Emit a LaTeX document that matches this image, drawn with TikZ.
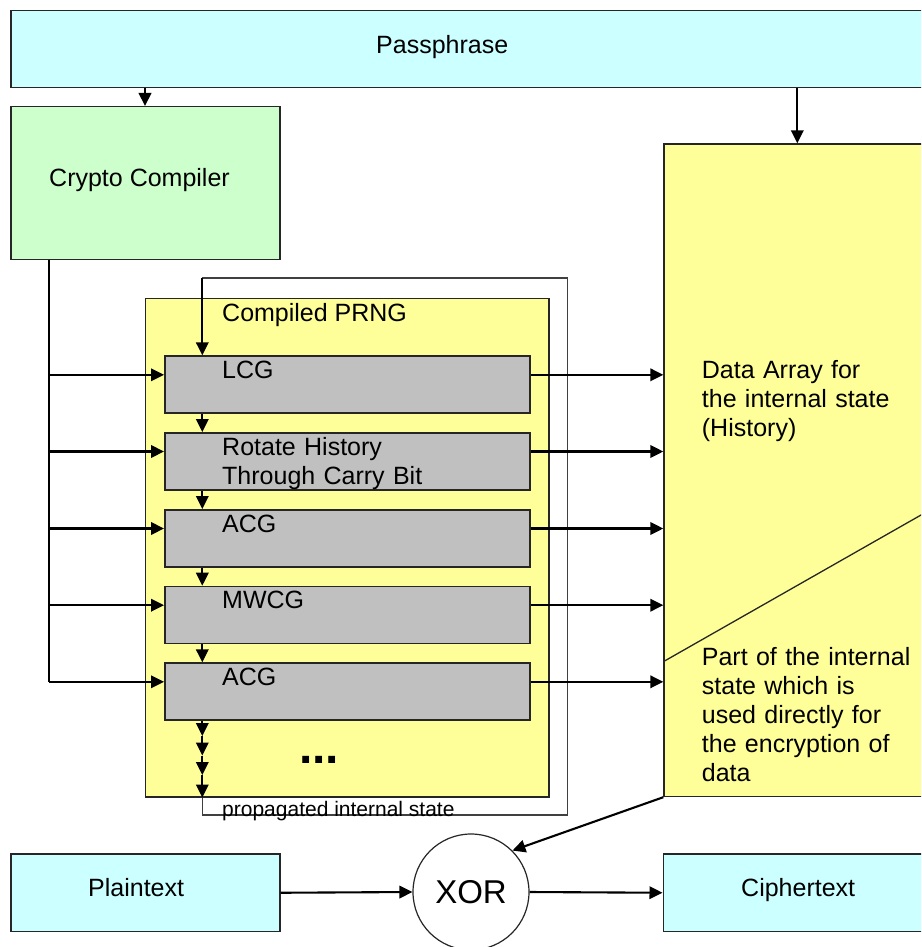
\documentclass[tikz,border=0pt]{standalone}
\usepackage{fontspec}
\setmainfont{Liberation Sans}
\usetikzlibrary{arrows.meta,calc}
\definecolor{cyanbox}{HTML}{CCFFFF}
\definecolor{greenbox}{HTML}{CCFFCC}
\definecolor{yellowbox}{HTML}{FFFF99}
\definecolor{graybox}{HTML}{C0C0C0}
\begin{document}
\begin{tikzpicture}[x=1pt,y=-1pt,
  box/.style={draw=black!85, line width=1.5pt, inner sep=0pt, anchor=north west},
  lbl/.style={anchor=base west, inner sep=0pt, font=\fontsize{25}{29}\selectfont, align=left},
  conn/.style={line width=2.1pt},
  arr/.style={line width=2.1pt, -{Triangle[length=13pt,width=12.5pt]}},
  loopline/.style={line width=1.2pt, draw=black!75},
]
\useasboundingbox (0,0) rectangle (921,947);
\clip (0,0) rectangle (921,947);
% boxes
\node[box, fill=cyanbox, minimum width=940pt, minimum height=76.7pt] (pass) at (10,10) {};
\node[box, fill=greenbox, minimum width=269pt, minimum height=152.7pt] (cc) at (10,106) {};
\node[box, fill=yellowbox, minimum width=403.3pt, minimum height=498.3pt] (prng) at (144.7,297.7) {};
\node[box, fill=yellowbox, minimum width=290pt, minimum height=652.4pt] (da) at (663.3,143.3) {};
\node[box, fill=graybox, minimum width=365pt, minimum height=57pt] (g1) at (164,355.3) {};
\node[box, fill=graybox, minimum width=365pt, minimum height=57pt] (g2) at (164,432) {};
\node[box, fill=graybox, minimum width=365pt, minimum height=57pt] (g3) at (164,509) {};
\node[box, fill=graybox, minimum width=365pt, minimum height=57pt] (g4) at (164,585.7) {};
\node[box, fill=graybox, minimum width=365pt, minimum height=57pt] (g5) at (164,662.3) {};
\node[box, fill=cyanbox, minimum width=269pt, minimum height=77.4pt] (pt) at (10,853.3) {};
\node[box, fill=cyanbox, minimum width=290pt, minimum height=77.4pt] (ct) at (662.5,853.3) {};
\node[draw=black!85, line width=1.2pt, circle, minimum size=116pt, inner sep=0pt, fill=white,
      font=\fontsize{33}{36}\selectfont] (xor) at (471,892) {XOR};

% diagonal split inside data array
\coordinate (diagA) at (663.3,661.7);
\coordinate (diagB) at (950,498.5);
\draw[line width=1.3pt, black!85] (diagA) -- (diagB);

% labels
\node[lbl] (passlbl) at (376,53.3) {Passphrase};
\node[lbl] (cclbl) at (49,186.7) {Crypto Compiler};
\node[lbl] (prnglbl) at (222,321.7) {Compiled PRNG};
\node[lbl] (l1) at (222,378.3) {LCG};
\node[lbl, text width=300pt] (l2) at (222,455) {Rotate History\\Through Carry Bit};
\node[lbl] (l3) at (222,532.3) {ACG};
\node[lbl] (l4) at (222,608.3) {MWCG};
\node[lbl] (l5) at (222,685) {ACG};
\node[lbl, text width=215pt] (dalbl) at (701.7,378.3) {Data Array for\\the internal state\\(History)};
\node[lbl, text width=215pt] (partlbl) at (701.7,665.7) {Part of the internal\\state which is\\used directly for\\the encryption of\\data};
\node[anchor=base west, inner sep=0pt, font=\fontsize{48}{50}\selectfont\bfseries] (dots) at (299,763.5) {...};
\node[lbl] (ptlbl) at (88,896.7) {Plaintext};
\node[lbl] (ctlbl) at (741,896.7) {Ciphertext};

% feedback loop
\coordinate (chain) at (202.3,0);
\coordinate (c1) at (202.3,736);
\coordinate (c2) at (202.3,755.5);
\coordinate (c3) at (202.3,775);
\coordinate (c4) at (prng.south -| chain);
\coordinate (lpbl) at (202.3,815);
\coordinate (lpbr) at (567.3,815);
\coordinate (lptr) at (567.3,278);
\coordinate (lptl) at (202.3,278);
\draw[loopline] (c4) -- (lpbl) -- (lpbr) -- (lptr) -- (lptl);
\node[lbl, font=\fontsize{21}{25}\selectfont] (proplbl) at (222,816) {propagated internal state};
\draw[arr] (lptl) -- (g1.north -| chain);

% passphrase connections
\coordinate (pcx) at (145,0);
\coordinate (pdx) at (797.3,0);
\draw[arr] (pass.south -| pcx) -- (cc.north -| pcx);
\draw[arr] (pass.south -| pdx) -- (da.north -| pdx);

% compiler bus
\coordinate (bus) at (49,0);
\foreach \g in {g1,g2,g3,g4,g5}{
  \coordinate (\g in) at ($(\g.north west)+(0,19.5)$);
  \coordinate (\g out) at ($(\g.north east)+(0,19.5)$);
}
\draw[conn] (cc.south -| bus) -- (bus |- g5in);
\foreach \g in {g1,g2,g3,g4,g5}{
  \draw[arr] (bus |- \g in) -- (\g in);
  \draw[arr] (\g out) -- (da.west |- \g out);
}

% chain
\draw[arr] (g1.south -| chain) -- (g2.north -| chain);
\draw[arr] (g2.south -| chain) -- (g3.north -| chain);
\draw[arr] (g3.south -| chain) -- (g4.north -| chain);
\draw[arr] (g4.south -| chain) -- (g5.north -| chain);
\draw[arr] (g5.south -| chain) -- (c1);
\draw[arr] (c1) -- (c2);
\draw[arr] (c2) -- (c3);
\draw[arr] (c3) -- (c4);

% bottom row
\draw[arr] (da.south west) -- (xor.45);
\draw[arr] (pt.east) -- (xor.west);
\draw[arr] (xor.east) -- (ct.west);
\end{tikzpicture}
\end{document}
